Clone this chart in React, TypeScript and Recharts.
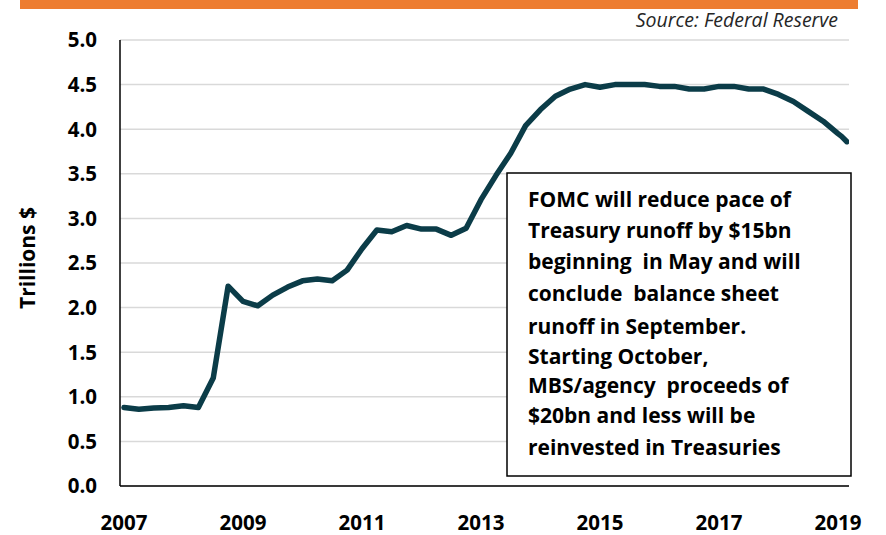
import React from "react";
import { LineChart, Line, XAxis, YAxis, CartesianGrid, Customized } from "recharts";

const dates = [
  2007.0, 2007.25, 2007.5, 2007.75,
  2008.0, 2008.25, 2008.5, 2008.75,
  2009.0, 2009.25, 2009.5, 2009.75,
  2010.0, 2010.25, 2010.5, 2010.75,
  2011.0, 2011.25, 2011.5, 2011.75,
  2012.0, 2012.25, 2012.5, 2012.75,
  2013.0, 2013.25, 2013.5, 2013.75,
  2014.0, 2014.25, 2014.5, 2014.75,
  2015.0, 2015.25, 2015.5, 2015.75,
  2016.0, 2016.25, 2016.5, 2016.75,
  2017.0, 2017.25, 2017.5, 2017.75,
  2018.0, 2018.25, 2018.5, 2018.75,
  2019.0, 2019.06, 2019.15,
];

const balanceSheet = [
  0.88, 0.86, 0.875, 0.88,
  0.9, 0.88, 1.21, 2.24,
  2.07, 2.02, 2.14, 2.23,
  2.3, 2.32, 2.3, 2.42,
  2.66, 2.87, 2.85, 2.92,
  2.88, 2.88, 2.81, 2.89,
  3.21, 3.48, 3.73, 4.04,
  4.22, 4.37, 4.45, 4.5,
  4.47, 4.5, 4.5, 4.5,
  4.48, 4.48, 4.45, 4.45,
  4.48, 4.48, 4.45, 4.45,
  4.39, 4.31, 4.2, 4.09,
  3.95, 3.92, 3.86,
];

const xTicks = [2007, 2009, 2011, 2013, 2015, 2017, 2019];
const yTicks = [0, 0.5, 1, 1.5, 2, 2.5, 3, 3.5, 4, 4.5, 5];

const noteLines = [
  "FOMC will reduce pace of",
  "Treasury runoff by $15bn",
  "beginning  in May and will",
  "conclude  balance sheet",
  "runoff in September.",
  "Starting October,",
  "MBS/agency  proceeds of",
  "$20bn and less will be",
  "reinvested in Treasuries",
];
const noteBaselines = [207, 238, 269, 301, 334, 364, 393, 423, 455];

const data = dates.map((d, i) => ({ date: d, value: balanceSheet[i] }));

const FONT = "'Open Sans', Lato, sans-serif";

const XTick = (props: any) => {
  const { x, payload } = props;
  return (
    <text x={x} y={530} textAnchor="middle" fontFamily={FONT} fontWeight={700} fontSize={20.5} fill="#000">
      {payload.value}
    </text>
  );
};

const YTick = (props: any) => {
  const { y, payload } = props;
  return (
    <text x={97} y={y} dy="0.36em" textAnchor="end" fontFamily={FONT} fontWeight={700} fontSize={20.5} fill="#000">
      {Number(payload.value).toFixed(1)}
    </text>
  );
};

const Overlay = () => (
  <g>
    <rect x={20} y={0} width={838} height={9} fill="#ED7D31" />
    <text x={838} y={27} textAnchor="end" fontFamily={FONT} fontStyle="italic" fontSize={19.5} fill="#262626">
      Source: Federal Reserve
    </text>
    <text
      x={27}
      y={258}
      transform="rotate(-90 27 258)"
      textAnchor="middle"
      dominantBaseline="central"
      fontFamily={FONT}
      fontWeight={700}
      fontSize={21}
      fill="#000"
    >
      Trillions $
    </text>
    <rect x={507} y={173} width={344} height={303} fill="#fff" stroke="#000" strokeWidth={1.5} />
    {noteLines.map((t, i) => (
      <text
        key={i}
        x={528}
        y={noteBaselines[i]}
        fontFamily={FONT}
        fontWeight={700}
        fontSize={21}
        fill="#000"
        style={{ whiteSpace: "pre" }}
      >
        {t}
      </text>
    ))}
  </g>
);

export default function App() {
  return (
    <div style={{ position: "absolute", left: 0, top: 0, width: 886, height: 535, background: "#fff" }}>
      <LineChart width={886} height={535} data={data} margin={{ top: 40, right: 37, bottom: 19, left: 60 }}>
        <CartesianGrid horizontal vertical={false} stroke="#d9d9d9" strokeWidth={1.5} />
        <XAxis
          dataKey="date"
          type="number"
          domain={[2006.933, 2019.185]}
          ticks={xTicks}
          allowDataOverflow
          tick={<XTick />}
          tickLine={false}
          axisLine={{ stroke: "#000", strokeWidth: 1.5 }}
          height={30}
          interval={0}
        />
        <YAxis
          type="number"
          domain={[0, 5]}
          ticks={yTicks}
          tick={<YTick />}
          tickLine={false}
          axisLine={{ stroke: "#000", strokeWidth: 1.5 }}
          width={60}
          interval={0}
        />
        <Line
          type="linear"
          dataKey="value"
          stroke="#0b3c48"
          strokeWidth={5.5}
          dot={false}
          strokeLinejoin="round"
          strokeLinecap="round"
          isAnimationActive={false}
        />
        <Customized component={Overlay} />
      </LineChart>
    </div>
  );
}
